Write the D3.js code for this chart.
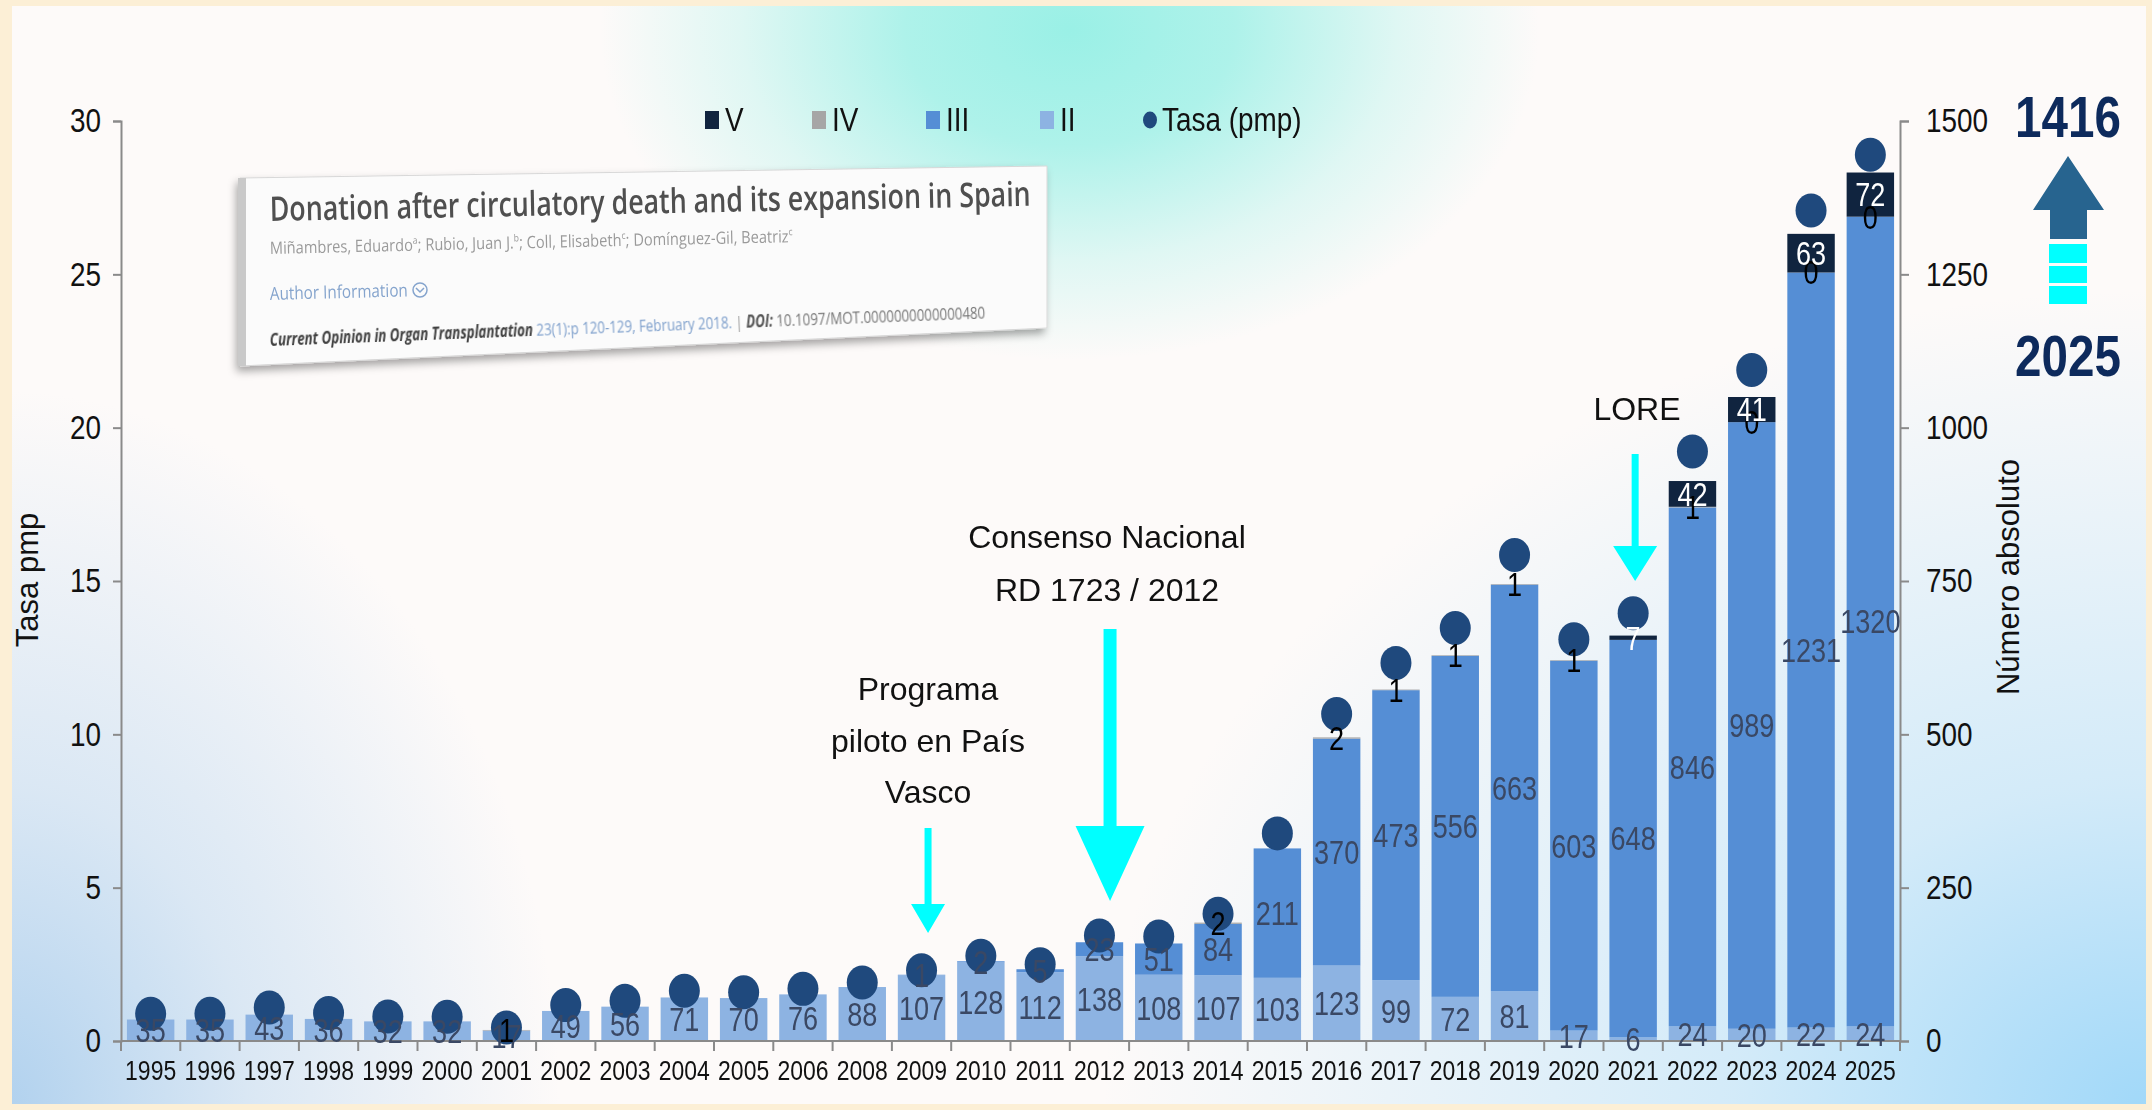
<!DOCTYPE html>
<html>
<head>
<meta charset="utf-8">
<script src="https://cdn.jsdelivr.net/npm/d3@7"></script>
<style>
  html, body { margin: 0; padding: 0; background: #fcefd6; }
  svg { display: block; }
  .narrow { font-family: "Liberation Sans Narrow", "Arial Narrow", "Liberation Sans", Arial, sans-serif; }
  .sans { font-family: "Liberation Sans", Arial, sans-serif; }
  .card { font-family: "Open Sans", "Noto Sans", sans-serif; }
</style>
</head>
<body>
<svg id="chart" width="2152" height="1110"></svg>
<script>
// ---- data -------------------------------------------------------------
const years = ["1995","1996","1997","1998","1999","2000","2001","2002","2003","2004","2005","2006",
               "2008","2009","2010","2011","2012","2013","2014","2015","2016","2017","2018","2019",
               "2020","2021","2022","2023","2024","2025"];
// Maastricht categories (number of donors); null = no segment / no label
const seriesII  = [35,35,43,36,32,32,17,49,56,71,70,76,88,107,128,112,138,108,107,103,123,99,72,81,17,6,24,20,22,24];
const seriesIII = [null,null,null,null,null,null,null,null,null,null,null,null,
                   null,1,2,5,23,51,84,211,370,473,556,663,603,648,846,989,1231,1320];
const seriesIV  = [null,null,null,null,null,null,1,null,null,null,null,null,
                   null,null,null,null,null,null,2,null,2,1,1,1,1,null,1,0,0,0];
const seriesV   = [null,null,null,null,null,null,null,null,null,null,null,null,
                   null,null,null,null,null,null,null,null,null,null,null,null,null,7,42,41,63,72];
// donors per million population
const tasa = [0.89,0.89,1.09,0.91,0.80,0.79,0.44,1.17,1.31,1.64,1.59,1.70,
              1.91,2.31,2.78,2.50,3.44,3.41,4.15,6.77,10.66,12.33,13.47,15.85,
              13.10,13.95,19.22,21.88,27.08,28.90];
const leftTicks  = [0,5,10,15,20,25,30];
const rightTicks = [0,250,500,750,1000,1250,1500];
const legendLabels = ["V","IV","III","II","Tasa (pmp)"];
const seriesKeys = ["II","III","IV","V"];
const highlightTotal = "1416";
const highlightYear = "2025";

// ---- styles -----------------------------------------------------------
const colors = { II: "#8db3e2", III: "#558ed5", IV: "#a6a6a6", V: "#10243f" };
const labelColors = { II: "#3a4864", III: "#3a4864", IV: "#000000", V: "#ffffff" };
const dotColor = "#1f497d";
const axisColor = "#8a8a8a";
const NARROW = 0.82;   // condensed width factor for the narrow face

// squeeze text horizontally so it reads like a condensed face
function condense(sel, f = NARROW) {
  sel.each(function () {
    const len = this.getComputedTextLength();
    d3.select(this).attr("textLength", len * f).attr("lengthAdjust", "spacingAndGlyphs");
  });
}

const svg = d3.select("#chart");
const W = 2152, H = 1110;
const defs = svg.append("defs");

// ---- background -------------------------------------------------------
function radial(id, cx, cy, rx, ry, color, stops) {
  const g = defs.append("radialGradient").attr("id", id)
    .attr("gradientUnits", "userSpaceOnUse")
    .attr("cx", 0).attr("cy", 0).attr("r", 1)
    .attr("gradientTransform", `translate(${cx},${cy}) scale(${rx},${ry})`);
  stops.forEach(([o, a]) => g.append("stop").attr("offset", o).attr("stop-color", color).attr("stop-opacity", a));
}
radial("glowTop", 1070, 30, 470, 330, "#9af0e6", [[0, 1], [0.35, 0.8], [0.7, 0.3], [1, 0]]);
radial("glowBL", 0, 1110, 560, 720, "#b0d1ee", [[0, 1], [0.45, 0.45], [1, 0]]);
radial("glowBR", 2152, 1110, 1050, 820, "#a0d8f9", [[0, 1], [0.4, 0.45], [1, 0]]);

const shadow = defs.append("filter").attr("id", "cardShadow")
  .attr("x", "-10%").attr("y", "-20%").attr("width", "120%").attr("height", "150%");
shadow.append("feDropShadow").attr("dx", -3).attr("dy", 5).attr("stdDeviation", 4)
  .attr("flood-color", "#000").attr("flood-opacity", 0.35);
const soft = defs.append("filter").attr("id", "soft");
soft.append("feGaussianBlur").attr("stdDeviation", 0.45);

svg.append("rect").attr("width", W).attr("height", H).attr("fill", "#fcefd6");
const panel = { x: 12, y: 6, w: W - 18, h: H - 12 };
svg.append("rect").attr("x", panel.x).attr("y", panel.y).attr("width", panel.w).attr("height", panel.h)
  .attr("fill", "#fdfaf9");
["glowTop", "glowBL", "glowBR"].forEach(id =>
  svg.append("rect").attr("x", panel.x).attr("y", panel.y).attr("width", panel.w).attr("height", panel.h)
    .attr("fill", `url(#${id})`));

// ---- article card ----------------------------------------------------
const card = svg.append("g").attr("class", "card");
card.append("path")
  .attr("d", "M240,178 L1047,166 L1047,328 L240,366 Z")
  .attr("fill", "#fbfbfb").attr("stroke", "#d8d8d8").attr("stroke-width", 1)
  .attr("filter", "url(#cardShadow)");
card.append("path").attr("d", "M238,178 L246,178 L246,366 L238,366 Z").attr("fill", "#c9c9c9");
const cardText = card.append("g").attr("filter", "url(#soft)");
cardText.append("text")
  .attr("transform", "translate(270,221) rotate(-1.15)")
  .attr("font-size", 34).attr("font-weight", 600).attr("fill", "#505050")
  .attr("textLength", 761).attr("lengthAdjust", "spacingAndGlyphs")
  .text("Donation after circulatory death and its expansion in Spain");
const authors = cardText.append("text")
  .attr("transform", "translate(270,254) rotate(-1.3)")
  .attr("font-size", 17).attr("fill", "#9a9a9a")
  .attr("textLength", 523).attr("lengthAdjust", "spacingAndGlyphs");
[["Miñambres, Eduardo", false], ["a", true], ["; Rubio, Juan J.", false], ["b", true],
 ["; Coll, Elisabeth", false], ["c", true], ["; Domínguez-Gil, Beatriz", false], ["c", true]]
  .forEach(([t, sup], i) => {
    const s = authors.append("tspan").text(t);
    if (sup) s.attr("font-size", 10).attr("dy", -7);
    else if (i > 0) s.attr("dy", 7);
  });
cardText.append("text")
  .attr("transform", "translate(270,300) rotate(-1.5)")
  .attr("font-size", 18).attr("fill", "#85a4cd")
  .attr("textLength", 138).attr("lengthAdjust", "spacingAndGlyphs")
  .text("Author Information");
cardText.append("circle").attr("cx", 420).attr("cy", 290).attr("r", 7)
  .attr("fill", "none").attr("stroke", "#85a4cd").attr("stroke-width", 1.5);
cardText.append("path").attr("d", "M416,288 L420,292 L424,288")
  .attr("fill", "none").attr("stroke", "#85a4cd").attr("stroke-width", 1.5);
const cite = cardText.append("text")
  .attr("transform", "translate(270,346) rotate(-2.2)")
  .attr("font-size", 17).attr("textLength", 716).attr("lengthAdjust", "spacingAndGlyphs");
cite.append("tspan").attr("font-weight", 700).attr("font-style", "italic").attr("fill", "#404040")
  .text("Current Opinion in Organ Transplantation");
cite.append("tspan").attr("fill", "#7fa0cc").text(" 23(1):p 120-129, February 2018.");
cite.append("tspan").attr("fill", "#9a9a9a").text(" | ");
cite.append("tspan").attr("font-weight", 700).attr("font-style", "italic").attr("fill", "#555").text("DOI:");
cite.append("tspan").attr("fill", "#777").text(" 10.1097/MOT.0000000000000480");

// ---- scales -----------------------------------------------------------
const x = d3.scaleBand().domain(years).range([121, 1900]).paddingInner(0.2).paddingOuter(0.1);
const yLeft = d3.scaleLinear().domain([0, 30]).range([1041, 121]);
const yRight = d3.scaleLinear().domain([0, 1500]).range([1041, 121]);

const rows = years.map((yr, i) => ({
  year: yr, II: seriesII[i] ?? 0, III: seriesIII[i] ?? 0, IV: seriesIV[i] ?? 0, V: seriesV[i] ?? 0
}));
const labelSource = { II: seriesII, III: seriesIII, IV: seriesIV, V: seriesV };
const stacked = d3.stack().keys(seriesKeys)(rows);

// ---- bars -------------------------------------------------------------
const barLayer = svg.append("g");
stacked.forEach(layer => {
  barLayer.append("g").attr("fill", colors[layer.key])
    .selectAll("rect").data(layer).join("rect")
    .attr("x", d => x(d.data.year))
    .attr("width", x.bandwidth())
    .attr("y", d => yRight(d[1]))
    .attr("height", d => Math.max(0, yRight(d[0]) - yRight(d[1])));
});

// ---- axes -------------------------------------------------------------
const leftAxis = svg.append("g").attr("transform", "translate(121,0)")
  .call(d3.axisLeft(yLeft).tickValues(leftTicks).tickFormat(d3.format("d")).tickSize(8).tickPadding(12));
const rightAxis = svg.append("g").attr("transform", "translate(1900,0)")
  .call(d3.axisRight(yRight).tickValues(rightTicks).tickFormat(d3.format("d")).tickSize(9).tickPadding(17));
[leftAxis, rightAxis].forEach(a => {
  a.select(".domain").attr("stroke", axisColor).attr("stroke-width", 2);
  a.selectAll(".tick line").attr("stroke", axisColor).attr("stroke-width", 2);
  a.selectAll(".tick text").attr("class", "narrow").attr("font-size", 34).attr("fill", "#111")
    .call(condense);
});

const step = x.step();
const bottom = svg.append("g");
bottom.append("line").attr("x1", 121).attr("x2", 1900).attr("y1", 1041).attr("y2", 1041)
  .attr("stroke", axisColor).attr("stroke-width", 2);
bottom.selectAll("line.tk").data(d3.range(years.length + 1)).join("line").attr("class", "tk")
  .attr("x1", i => 121 + i * step).attr("x2", i => 121 + i * step)
  .attr("y1", 1041).attr("y2", 1051)
  .attr("stroke", axisColor).attr("stroke-width", 2);
bottom.selectAll("text").data(years).join("text")
  .attr("class", "narrow").attr("font-size", 28).attr("fill", "#111")
  .attr("text-anchor", "middle")
  .attr("x", d => x(d) + x.bandwidth() / 2).attr("y", 1080)
  .text(d => d)
  .call(condense);

// ---- rate dots --------------------------------------------------------
svg.append("g").selectAll("ellipse").data(years).join("ellipse")
  .attr("cx", (d) => x(d) + x.bandwidth() / 2)
  .attr("cy", (d, i) => yLeft(tasa[i]))
  .attr("rx", 15.5).attr("ry", 17)
  .attr("fill", dotColor);

// ---- segment labels ---------------------------------------------------
const labelLayer = svg.append("g").attr("class", "narrow").attr("font-size", 33).attr("text-anchor", "middle");
stacked.forEach(layer => {
  const vals = labelSource[layer.key];
  labelLayer.append("g").attr("fill", labelColors[layer.key])
    .selectAll("text").data(layer.filter((d, i) => vals[i] !== null)).join("text")
    .attr("x", d => x(d.data.year) + x.bandwidth() / 2)
    .attr("y", d => (yRight(d[0]) + yRight(d[1])) / 2)
    .attr("dy", "0.36em")
    .text(d => d.data[layer.key])
    .call(condense);
});

// ---- legend -----------------------------------------------------------
const legendX = [705, 812, 926, 1040, 1150];
const legend = svg.append("g").attr("class", "narrow").attr("font-size", 34).attr("fill", "#111");
legendLabels.forEach((lab, i) => {
  if (i < 4) {
    legend.append("rect").attr("x", legendX[i]).attr("y", 111).attr("width", 14).attr("height", 18)
      .attr("fill", colors[seriesKeys[3 - i]]);
    legend.append("text").attr("x", legendX[i] + 20).attr("y", 131).text(lab).call(condense);
  } else {
    legend.append("ellipse").attr("cx", legendX[i]).attr("cy", 120).attr("rx", 7).attr("ry", 8.5)
      .attr("fill", dotColor);
    legend.append("text").attr("x", legendX[i] + 12).attr("y", 131).text(lab).call(condense);
  }
});

// ---- axis titles ------------------------------------------------------
svg.append("text").attr("class", "sans").attr("font-size", 31).attr("fill", "#111")
  .attr("text-anchor", "middle").attr("transform", "translate(38,580) rotate(-90)")
  .text("Tasa pmp");
svg.append("text").attr("class", "sans").attr("font-size", 31).attr("fill", "#111")
  .attr("text-anchor", "middle").attr("transform", "translate(2019,577) rotate(-90)")
  .text("Número absoluto");

// ---- milestone annotations ------------------------------------------
const milestones = [
  { year: "2009", dx: 6.5, lines: ["Programa", "piloto en País", "Vasco"], baseY: [700, 752, 803], textX: 928,
    shaftTop: 828, headTop: 904, tip: 933, shaftW: 7, headW: 34 },
  { year: "2012", dx: 10.6, lines: ["Consenso Nacional", "RD 1723 / 2012"], baseY: [548, 601], textX: 1107,
    shaftTop: 629, headTop: 826, tip: 901, shaftW: 13, headW: 69 },
  { year: "2021", dx: 2, lines: ["LORE"], baseY: [420], textX: 1637,
    shaftTop: 454, headTop: 546, tip: 581, shaftW: 7, headW: 44 }
];
const ann = svg.append("g");
milestones.forEach(m => {
  const cx = x(m.year) + x.bandwidth() / 2 + m.dx;
  m.lines.forEach((l, i) => ann.append("text").attr("class", "sans").attr("font-size", 32)
    .attr("fill", "#111").attr("text-anchor", "middle")
    .attr("x", m.textX).attr("y", m.baseY[i]).text(l));
  const p = d3.path();
  p.moveTo(cx - m.shaftW / 2, m.shaftTop);
  p.lineTo(cx + m.shaftW / 2, m.shaftTop);
  p.lineTo(cx + m.shaftW / 2, m.headTop);
  p.lineTo(cx + m.headW / 2, m.headTop);
  p.lineTo(cx, m.tip);
  p.lineTo(cx - m.headW / 2, m.headTop);
  p.lineTo(cx - m.shaftW / 2, m.headTop);
  p.closePath();
  ann.append("path").attr("d", p.toString()).attr("fill", "#00ffff");
});

// ---- 2025 highlight ---------------------------------------------------
const hl = svg.append("g");
const hx = 2068;
hl.append("text").attr("class", "narrow").attr("font-size", 58).attr("font-weight", 700)
  .attr("fill", "#0d2a5c").attr("text-anchor", "middle").attr("x", hx).attr("y", 137).text(highlightTotal)
  .call(condense);
hl.append("text").attr("class", "narrow").attr("font-size", 58).attr("font-weight", 700)
  .attr("fill", "#0d2a5c").attr("text-anchor", "middle").attr("x", hx).attr("y", 376).text(highlightYear)
  .call(condense);
const up = d3.path();
up.moveTo(hx, 156); up.lineTo(hx + 36, 210); up.lineTo(hx + 19, 210); up.lineTo(hx + 19, 239);
up.lineTo(hx - 18, 239); up.lineTo(hx - 18, 210); up.lineTo(hx - 35, 210); up.closePath();
hl.append("path").attr("d", up.toString()).attr("fill", "#27648f");
[[244, 263], [266, 283], [286, 304]].forEach(([a, b]) =>
  hl.append("rect").attr("x", hx - 19).attr("y", a).attr("width", 38).attr("height", b - a).attr("fill", "#00ffff"));
</script>
</body>
</html>
